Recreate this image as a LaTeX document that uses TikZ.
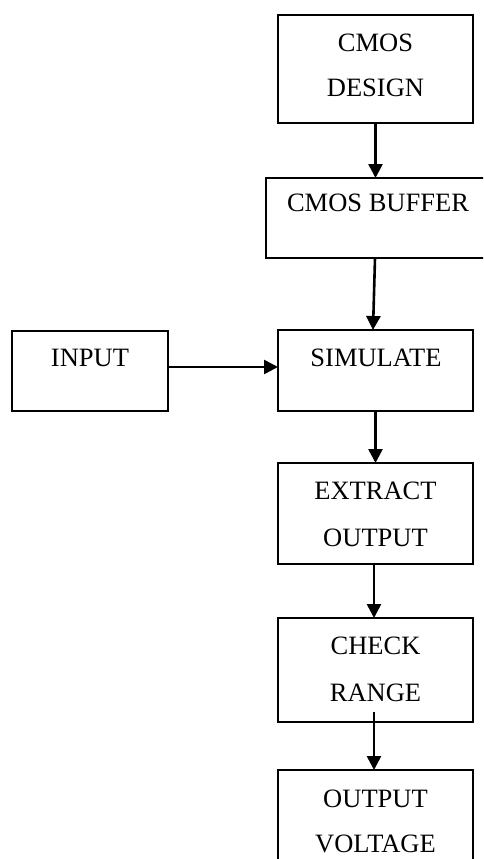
\documentclass[tikz,border=0pt]{standalone}
\usepackage{fontspec}
\setmainfont{Liberation Serif}
\usetikzlibrary{arrows.meta}

\tikzset{
  stagebox/.style={draw=black, line width=1.6pt, rectangle, inner sep=0pt, outer sep=0pt},
  linetext/.style={anchor=base, inner sep=0pt, font=\fontsize{26.5pt}{46pt}\selectfont},
  flow/.style={draw=black, line width=2.6pt, -{Triangle[length=14pt,width=14pt]}}
}

\begin{document}
\begin{tikzpicture}[x=1pt, y=-1pt]
  \useasboundingbox (0,0) rectangle (483,859);
  \clip (0,0) rectangle (483,859);

  % boxes (centre, width, height in px)
  \node[stagebox, minimum width=195pt, minimum height=108pt] (design)   at (375.5,69)    {};
  \node[stagebox, minimum width=224pt, minimum height=80pt]  (buffer)   at (378,218)     {};
  \node[stagebox, minimum width=156pt, minimum height=80pt]  (input)    at (90,371)      {};
  \node[stagebox, minimum width=195pt, minimum height=81pt]  (simulate) at (375.5,370.5) {};
  \node[stagebox, minimum width=195pt, minimum height=101pt] (extract)  at (375.5,513.5) {};
  \node[stagebox, minimum width=195pt, minimum height=104pt] (check)    at (375.5,670)   {};
  \node[stagebox, minimum width=195pt, minimum height=130pt] (voltage)  at (375.5,835)   {};

  % box texts, set near the top of each box
  \node[linetext] (design1)   at (375.5,52)  {CMOS};
  \node[linetext] (design2)   at (375.5,96)  {DESIGN};
  \node[linetext] (buffer1)   at (378,211)   {CMOS BUFFER};
  \node[linetext] (input1)    at (90,366)    {INPUT};
  \node[linetext] (simulate1) at (376,366)   {SIMULATE};
  \node[linetext] (extract1)  at (375.5,499) {EXTRACT};
  \node[linetext] (extract2)  at (375.5,546) {OUTPUT};
  \node[linetext] (check1)    at (375.5,654) {CHECK};
  \node[linetext] (check2)    at (375.5,701) {RANGE};
  \node[linetext] (voltage1)  at (375.5,807) {OUTPUT};
  \node[linetext] (voltage2)  at (375.5,852) {VOLTAGE};

  % connectors
  \draw[flow] (design.south) -- (design.south |- buffer.north);
  \draw[flow] ([xshift=-3pt]buffer.south) -- ([xshift=-2.5pt]simulate.north);
  \draw[flow] ([yshift=4pt]input.east) -- ([yshift=4pt]input.east -| simulate.west);
  \draw[flow] (simulate.south) -- (extract.north);
  \draw[flow] ([xshift=-1.5pt]extract.south) -- ([xshift=-1.5pt]check.north);
  \draw[flow] ([xshift=-1.5pt,yshift=10pt]check.south) -- ([xshift=-1.5pt]voltage.north);
\end{tikzpicture}
\end{document}
